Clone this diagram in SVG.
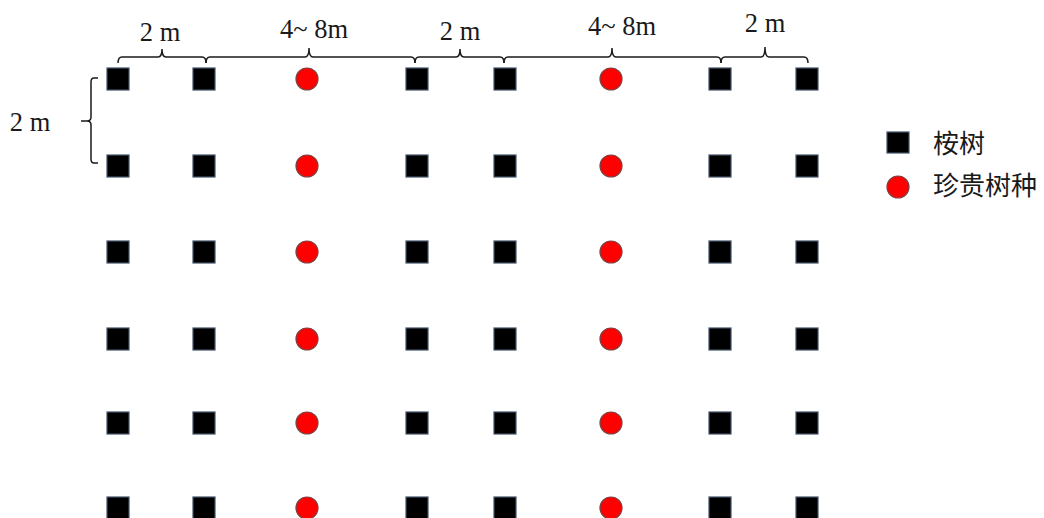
<svg xmlns="http://www.w3.org/2000/svg" width="1044" height="518" viewBox="0 0 1044 518">
<style>
.sq{fill:#000;stroke:#44546a;stroke-width:1.2}
.ci{fill:#ff0000;stroke:#7f3f3f;stroke-width:1.2}
.br{fill:none;stroke:#1a1a1a;stroke-width:1.5}
.lb{font-family:"Liberation Serif",serif;font-size:26.5px;fill:#1a1a1a;text-anchor:middle}
.lg{font-family:"Liberation Serif","Noto Sans CJK SC",serif;font-size:26px;fill:#1a1a1a}
</style>
<defs>
<rect id="s" class="sq" x="-11" y="-11" width="22" height="22"/>
<circle id="c" class="ci" r="11"/>
</defs>
<rect width="1044" height="518" fill="#fff"/>
<g id="grid">
<g id="row1" transform="translate(0,79)"><use href="#s" x="118"/><use href="#s" x="204"/><use href="#c" x="307"/><use href="#s" x="417"/><use href="#s" x="505"/><use href="#c" x="611"/><use href="#s" x="720"/><use href="#s" x="807"/></g>
<g id="row2" transform="translate(0,166)"><use href="#s" x="118"/><use href="#s" x="204"/><use href="#c" x="307"/><use href="#s" x="417"/><use href="#s" x="505"/><use href="#c" x="611"/><use href="#s" x="720"/><use href="#s" x="807"/></g>
<g id="row3" transform="translate(0,252)"><use href="#s" x="118"/><use href="#s" x="204"/><use href="#c" x="307"/><use href="#s" x="417"/><use href="#s" x="505"/><use href="#c" x="611"/><use href="#s" x="720"/><use href="#s" x="807"/></g>
<g id="row4" transform="translate(0,339)"><use href="#s" x="118"/><use href="#s" x="204"/><use href="#c" x="307"/><use href="#s" x="417"/><use href="#s" x="505"/><use href="#c" x="611"/><use href="#s" x="720"/><use href="#s" x="807"/></g>
<g id="row5" transform="translate(0,423)"><use href="#s" x="118"/><use href="#s" x="204"/><use href="#c" x="307"/><use href="#s" x="417"/><use href="#s" x="505"/><use href="#c" x="611"/><use href="#s" x="720"/><use href="#s" x="807"/></g>
<g id="row6" transform="translate(0,508)"><use href="#s" x="118"/><use href="#s" x="204"/><use href="#c" x="307"/><use href="#s" x="417"/><use href="#s" x="505"/><use href="#c" x="611"/><use href="#s" x="720"/><use href="#s" x="807"/></g>
</g>
<g id="brackets">
<path class="br" d="M118,63 q0,-6 4,-6 H158 q4,0 4,-8 q0,8 4,8 H202 q4,0 4,6"/>
<path class="br" d="M206,63 q0,-6 4,-6 H305 q4,0 4,-9 q0,9 4,9 H411 q4,0 4,6"/>
<path class="br" d="M415,63 q0,-6 4,-6 H456 q4,0 4,-8 q0,8 4,8 H500 q4,0 4,6"/>
<path class="br" d="M504,63 q0,-6 4,-6 H608 q4,0 4,-9 q0,9 4,9 H717 q4,0 4,6"/>
<path class="br" d="M721,63 q0,-6 4,-6 H761 q4,0 4,-10 q0,10 4,10 H804 q4,0 4,6"/>
<path class="br" d="M98,78 H94 q-3,0 -3,4 V117 q0,4 -4,4 H81 M87,121 q4,0 4,4 V159 q0,4 3,4 H98"/>
</g>
<g id="labels">
<text class="lb" x="160" y="41">2 m</text>
<text class="lb" x="314" y="38">4~ 8m</text>
<text class="lb" x="460" y="40">2 m</text>
<text class="lb" x="622" y="35">4~ 8m</text>
<text class="lb" x="765" y="32">2 m</text>
<text class="lb" x="30" y="131">2 m</text>
</g>
<g id="legend">
<rect class="sq" x="887" y="132" width="22" height="21"/>
<text class="lg" x="933" y="153">桉树</text>
<circle class="ci" cx="898" cy="187" r="11"/>
<text class="lg" x="933" y="195">珍贵树种</text>
</g>
</svg>
